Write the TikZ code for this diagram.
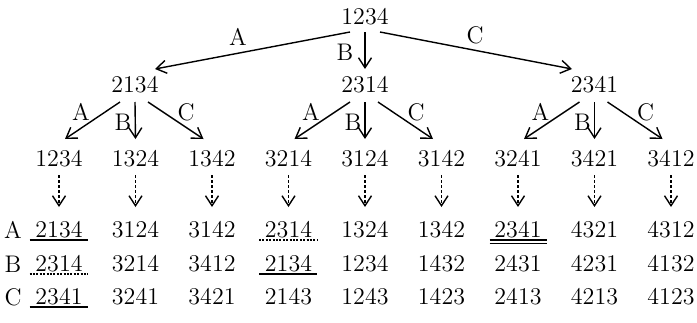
\documentclass[tikz,border=0pt]{standalone}
\usetikzlibrary{arrows.meta}
\begin{document}
\begin{tikzpicture}[x=0.5pt,y=-0.5pt,
  txt/.style={font=\fontsize{12}{14}\selectfont, inner sep=0pt},
  arr/.style={line width=0.7pt,-{Straight Barb[length=5pt,width=6.5pt]}},
  darr/.style={arr, dash pattern=on 1.5pt off 1pt},
  uline/.style={line width=0.55pt},
  duline/.style={uline, dash pattern=on 1pt off 0.7pt}]
\useasboundingbox (0,0) rectangle (697,322);

% root and first level
\node[txt] (r) at (365,17) {1234};
\node[txt] (a) at (135,85) {2134};
\node[txt] (b) at (365,85) {2314};
\node[txt] (c) at (594.5,85) {2341};

\draw[arr] ([shift={(-15,15)}]r.center) -- ([shift={(20,-16)}]a.center);
\draw[arr] ([shift={(0,15)}]r.center) -- ([shift={(0,-16)}]b.center);
\draw[arr] ([shift={(15,15)}]r.center) -- ([shift={(-22.5,-16)}]c.center);
\node[txt] (lA) at (238,37) {A};
\node[txt] (lB) at (345,52) {B};
\node[txt] (lC) at (475,35) {C};

% second level
\foreach \t [count=\i] in {1234,1324,1342,3214,3124,3142,3241,3421,3412}
  \node[txt] (k\i) at ({59+76.5*(\i-1)},159) {\t};

\foreach \p/\x [count=\g] in {a/135,b/365,c/594.5}{
  \pgfmathtruncatemacro{\ka}{3*\g-2}
  \pgfmathtruncatemacro{\kb}{3*\g-1}
  \pgfmathtruncatemacro{\kc}{3*\g}
  \draw[arr] ([shift={(-15,17)}]\p.center) -- ([shift={(6,-20)}]k\ka.center);
  \draw[arr] ([shift={(0,17)}]\p.center) -- ([shift={(0,-20)}]k\kb.center);
  \draw[arr] ([shift={(13,17)}]\p.center) -- ([shift={(-8.5,-20)}]k\kc.center);
  \node[txt] (la\g) at (\x-54,112) {A};
  \node[txt] (lb\g) at (\x-12,122) {B};
  \node[txt] (lc\g) at (\x+51,112) {C};
}

% result rows
\foreach \t [count=\i] in {2134,3124,3142,2314,1324,1342,2341,4321,4312}
  \node[txt] (ra\i) at ({59+76.5*(\i-1)},230) {\t};
\foreach \t [count=\i] in {2314,3214,3412,2134,1234,1432,2431,4231,4132}
  \node[txt] (rb\i) at ({59+76.5*(\i-1)},264) {\t};
\foreach \t [count=\i] in {2341,3241,3421,2143,1243,1423,2413,4213,4123}
  \node[txt] (rc\i) at ({59+76.5*(\i-1)},297) {\t};
\node[txt] (rowA) at (13,230) {A};
\node[txt] (rowB) at (13,264) {B};
\node[txt] (rowC) at (13,297) {C};

% dashed arrows into the result rows
\foreach \i in {1,...,9}
  \draw[darr] ([shift={(0,16)}]k\i.center) -- ([shift={(0,-23)}]ra\i.center);

% underlines
\draw[uline] ([shift={(-29.5,10)}]ra1.center) -- ([shift={(28.5,10)}]ra1.center);
\draw[duline] ([shift={(-29.5,10)}]ra4.center) -- ([shift={(28.5,10)}]ra4.center);
\draw[uline] ([shift={(-28.5,10)}]ra7.center) -- ([shift={(29,10)}]ra7.center);
\draw[uline] ([shift={(-28.5,13.5)}]ra7.center) -- ([shift={(29,13.5)}]ra7.center);
\draw[duline] ([shift={(-29.5,10)}]rb1.center) -- ([shift={(28.5,10)}]rb1.center);
\draw[uline] ([shift={(-29.5,10)}]rb4.center) -- ([shift={(28.5,10)}]rb4.center);
\draw[uline] ([shift={(-29.5,10)}]rc1.center) -- ([shift={(28.5,10)}]rc1.center);
\end{tikzpicture}
\end{document}
